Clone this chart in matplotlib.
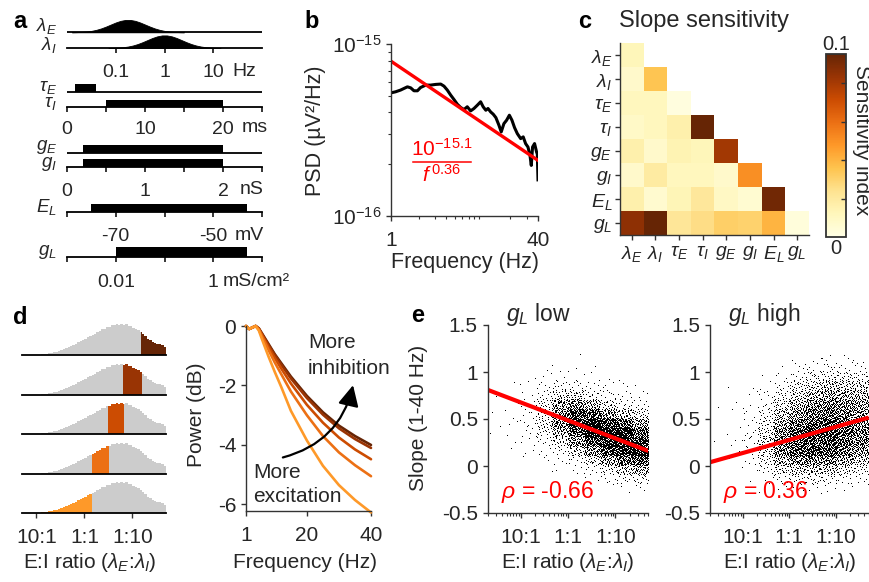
import numpy as np
import matplotlib
matplotlib.use("Agg")
import matplotlib.pyplot as plt
from matplotlib.patches import Rectangle
from matplotlib.lines import Line2D
from matplotlib.ticker import FixedLocator, NullFormatter, NullLocator, LogLocator

plt.rcParams["font.family"] = ["Liberation Sans", "DejaVu Sans"]
plt.rcParams["mathtext.fontset"] = "custom"
plt.rcParams["mathtext.rm"] = "Liberation Sans"
plt.rcParams["mathtext.it"] = "Liberation Sans:italic"
plt.rcParams["mathtext.bf"] = "Liberation Sans:bold"
plt.rcParams["axes.unicode_minus"] = False
TXT = "#262626"
SPINE = "#333333"
plt.rcParams["text.color"] = TXT
plt.rcParams["xtick.color"] = SPINE
plt.rcParams["ytick.color"] = SPINE
plt.rcParams["xtick.labelcolor"] = TXT
plt.rcParams["ytick.labelcolor"] = TXT

# ---------------- data ----------------
# a: parameter priors
lam_E_logf = [-1.9, -1.8, -1.7, -1.6, -1.5, -1.4, -1.3, -1.2, -1.1, -1.0, -0.9, -0.8,
              -0.7, -0.6, -0.5, -0.4, -0.3, -0.2, -0.1, 0.0, 0.1, 0.2, 0.3, 0.4]
lam_I_logf = [-1.15, -1.05, -0.95, -0.85, -0.75, -0.65, -0.55, -0.45, -0.35, -0.25, -0.15, -0.05,
              0.05, 0.15, 0.25, 0.35, 0.45, 0.55, 0.65, 0.75, 0.85, 0.95, 1.05, 1.15]
lam_dens = [0.006, 0.014, 0.031, 0.062, 0.114, 0.196, 0.311, 0.458, 0.623, 0.786, 0.917, 0.99,
            0.99, 0.917, 0.786, 0.623, 0.458, 0.311, 0.196, 0.114, 0.062, 0.031, 0.014, 0.006]
tau_E_range = (1.0, 3.7)     # ms
tau_I_range = (5.0, 20.0)    # ms
g_E_range = (0.2, 2.0)       # nS
g_I_range = (0.2, 2.0)       # nS
E_L_range = (-75.0, -43.0)   # mV
g_L_range = (0.01, 5.0)      # mS/cm2

# b: example spectrum
psd_freq = [1.0, 1.12, 1.27, 1.39, 1.51, 1.64, 1.78, 1.94, 2.1, 2.39, 2.7, 3.07, 3.48, 3.78,
            4.11, 4.47, 4.86, 5.28, 5.74, 6.24, 6.78, 7.38, 8.02, 8.72, 9.48, 10.1, 10.8,
            11.4, 12.2, 13.0, 13.9, 15.0, 15.9, 17.0, 18.2, 19.5, 20.8, 22.2, 23.8, 25.9,
            27.6, 29.3, 31.1, 32.7, 33.8, 34.9, 36.7, 38.6, 39.3, 40.0]
psd_log = [-15.284, -15.278, -15.268, -15.258, -15.249, -15.255, -15.272, -15.272, -15.253,
           -15.239, -15.239, -15.235, -15.233, -15.245, -15.268, -15.297, -15.323, -15.350,
           -15.369, -15.381, -15.365, -15.389, -15.375, -15.356, -15.336, -15.365, -15.385,
           -15.375, -15.395, -15.408, -15.428, -15.472, -15.511, -15.463, -15.443, -15.414,
           -15.443, -15.486, -15.521, -15.550, -15.540, -15.579, -15.599, -15.647, -15.706,
           -15.599, -15.579, -15.628, -15.640, -15.790]
fit_exp = -15.1
fit_slope = 0.36

# c: slope sensitivity (rows/cols: lamE lamI tauE tauI gE gI EL gL)
params_tex = [r"$\lambda_E$", r"$\lambda_I$", r"$\tau_E$", r"$\tau_I$",
              r"$g_E$", r"$g_I$", r"$E_L$", r"$g_L$"]
sens_rows = [
    [0.013],
    [0.008, 0.037],
    [0.012, 0.012, 0.002],
    [0.009, 0.012, 0.017, 0.100],
    [0.017, 0.008, 0.015, 0.013, 0.085],
    [0.008, 0.020, 0.012, 0.012, 0.008, 0.053],
    [0.017, 0.007, 0.014, 0.022, 0.010, 0.006, 0.097],
    [0.090, 0.100, 0.023, 0.027, 0.033, 0.032, 0.042, 0.003],
]

# d: E:I ratio histogram (log10 lamI/lamE) and selected bands
ei_edges = [-1.3, -1.25, -1.2, -1.15, -1.1, -1.05, -1.0, -0.95, -0.9, -0.85, -0.8, -0.75,
            -0.7, -0.65, -0.6, -0.55, -0.5, -0.45, -0.4, -0.35, -0.3, -0.25, -0.2, -0.15,
            -0.1, -0.05, 0.0, 0.05, 0.1, 0.15, 0.2, 0.25, 0.3, 0.35, 0.4, 0.45, 0.5, 0.55,
            0.6, 0.65, 0.7, 0.75, 0.8, 0.85, 0.9, 0.95, 1.0, 1.05, 1.1, 1.15, 1.2, 1.25,
            1.3, 1.35, 1.4, 1.45, 1.5, 1.55, 1.6, 1.65, 1.7]
ei_counts = [0, 0, 0, 0.1, 0.1, 0.2, 0.3, 0.5, 0.6, 1.0, 1.2, 1.8, 2.0, 2.7, 3.1, 4.0, 4.8,
             6.0, 6.8, 8.1, 9.0, 10.4, 11.1, 12.6, 13.6, 15.1, 16.0, 17.6, 18.8, 20.3, 21.4,
             23.1, 24.2, 25.8, 26.4, 27.9, 28.4, 29.6, 30.0, 30.9, 30.5, 31.3, 30.4, 30.8,
             29.3, 28.7, 27.0, 26.4, 24.6, 23.2, 20.6, 18.8, 16.3, 14.9, 13.2, 12.4, 11.2,
             10.7, 9.6, 8.3]
ei_bands = [(1.17, 1.7), (0.81, 1.19), (0.50, 0.82), (0.15, 0.52), (-1.3, 0.15)]
band_colors = ["#662506", "#993404", "#cc4c02", "#ec7014", "#fe9929"]

pow_freq = [1, 2, 3, 4, 5, 6, 8, 10, 12, 15, 20, 25, 30, 35, 40]
pow_db = [
    [0, -0.1, -0.05, 0, -0.08, -0.25, -0.60, -0.95, -1.25, -1.70, -2.35, -2.90, -3.35, -3.70, -4.00],
    [0, -0.1, -0.05, 0, -0.08, -0.27, -0.63, -0.98, -1.30, -1.76, -2.42, -2.98, -3.44, -3.80, -4.10],
    [0, -0.1, -0.05, 0, -0.10, -0.30, -0.70, -1.08, -1.43, -1.93, -2.65, -3.25, -3.75, -4.15, -4.48],
    [0, -0.1, -0.05, 0, -0.12, -0.35, -0.80, -1.23, -1.62, -2.20, -3.00, -3.70, -4.25, -4.68, -5.05],
    [0, -0.1, -0.05, 0, -0.15, -0.45, -1.02, -1.55, -2.05, -2.85, -3.85, -4.70, -5.35, -5.85, -6.27],
]

# e: slope vs E:I ratio, point counts per cell (rows top->bottom, cols left->right)
sc_xedges = [-1.7, -1.36, -1.02, -0.68, -0.34, 0.0, 0.34, 0.68, 1.02, 1.36, 1.7]
sc_yedges = [1.2, 1.1, 1.0, 0.9, 0.8, 0.7, 0.6, 0.5, 0.4, 0.3, 0.2, 0.1, 0.0, -0.1, -0.2, -0.3]
low_counts_by_col = [
    [0, 0, 0, 0, 1, 0, 1, 1, 1, 0, 0, 0, 0, 0, 0],
    [0, 0, 0, 1, 1, 1, 2, 2, 1, 1, 1, 0, 0, 0, 0],
    [0, 0, 1, 2, 3, 4, 5, 5, 4, 3, 2, 1, 0, 0, 0],
    [0, 1, 2, 5, 10, 20, 25, 22, 15, 8, 4, 2, 1, 0, 0],
    [0, 1, 3, 10, 30, 60, 80, 75, 50, 25, 10, 4, 1, 0, 0],
    [1, 1, 3, 8, 30, 75, 130, 150, 120, 70, 30, 10, 3, 1, 0],
    [0, 1, 2, 5, 15, 50, 120, 170, 180, 140, 70, 25, 8, 2, 0],
    [0, 0, 1, 3, 8, 25, 70, 140, 190, 190, 130, 60, 20, 5, 1],
    [0, 0, 1, 2, 5, 12, 40, 100, 160, 190, 170, 100, 40, 10, 2],
    [0, 0, 0, 1, 3, 8, 25, 60, 110, 160, 160, 120, 50, 15, 3],
]
high_counts_by_col = [
    [0, 0, 0, 0, 0, 1, 0, 0, 0, 1, 0, 1, 0, 0, 0],
    [0, 0, 0, 1, 0, 1, 1, 1, 1, 2, 1, 1, 0, 0, 0],
    [0, 0, 0, 1, 2, 2, 3, 4, 5, 7, 6, 4, 2, 1, 0],
    [0, 0, 1, 2, 5, 8, 12, 18, 25, 30, 28, 18, 8, 3, 1],
    [0, 1, 3, 8, 15, 25, 40, 55, 75, 85, 75, 50, 25, 8, 2],
    [1, 3, 8, 20, 35, 50, 70, 95, 120, 125, 110, 75, 35, 12, 3],
    [2, 5, 15, 30, 50, 70, 95, 120, 140, 150, 125, 85, 40, 15, 4],
    [3, 8, 20, 40, 60, 80, 100, 120, 135, 135, 115, 75, 35, 12, 3],
    [2, 6, 18, 35, 55, 75, 90, 100, 110, 105, 85, 55, 25, 8, 2],
    [1, 5, 15, 30, 45, 60, 70, 80, 85, 80, 65, 40, 18, 5, 1],
]
fit_ratio_ends = [10 ** -1.7, 10 ** 1.7]
low_fit_ends = [0.81, 0.16]
high_fit_ends = [0.04, 0.515]
rho_low = -0.66
rho_high = 0.36

# ---------------- layout helpers (pixel coordinates) ----------------
W, H = 869, 582
fig = plt.figure(figsize=(W / 100, H / 100), dpi=100)


def box(x0, y0, x1, y1):
    return [x0 / W, 1 - y1 / H, (x1 - x0) / W, (y1 - y0) / H]


def ftext(x, y, s, **kw):
    kw.setdefault("va", "center")
    return fig.text(x / W, 1 - y / H, s, **kw)


def only_bottom(ax, color="k", lw=1.3):
    for s in ["top", "right", "left"]:
        ax.spines[s].set_visible(False)
    ax.spines["bottom"].set_color(color)
    ax.spines["bottom"].set_linewidth(lw)
    ax.yaxis.set_visible(False)
    ax.patch.set_visible(False)


def halton(n, base, start=1):
    out = np.empty(n)
    for i in range(n):
        f, r, k = 1.0, 0.0, i + start
        while k > 0:
            f /= base
            r += f * (k % base)
            k //= base
        out[i] = r
    return out


# ---------------- panel a ----------------
def track_axes(y0, y1, pad):
    ax = fig.add_axes(box(67, y0, 262, y1))
    only_bottom(ax)
    ax.set_ylim(0, y1 - y0)
    ax.tick_params(axis="x", length=3.6, width=1.1, color="k", pad=pad, labelsize=14)
    return ax


ax = track_axes(18, 48, 8.2)
ax.set_xscale("log")
ax.set_xlim(0.01, 100)
xe = 10 ** np.array(lam_E_logf)
xi = 10 ** np.array(lam_I_logf)
dens = np.array(lam_dens)
ax.fill_between(xe, 15.7, 15.7 + 12.5 * dens, color="k", lw=0.6, clip_on=False)
ax.plot([0.01, 100], [15.7, 15.7], color="k", lw=1.3, clip_on=False, solid_capstyle="butt")
ax.fill_between(xi, 0, 12.7 * dens, color="k", lw=0.6, clip_on=False)
ax.xaxis.set_major_locator(FixedLocator([0.1, 1, 10]))
ax.set_xticklabels(["0.1", "1", "10"])
ax.xaxis.set_minor_locator(NullLocator())
ftext(232, 71.5, "Hz", ha="left", fontsize=14)

ax = track_axes(80, 107, 6.4)
ax.set_xlim(0, 25)
ax.fill_between(tau_E_range, 15.5, 23, color="k", lw=0)
ax.plot([0, 25], [15.5, 15.5], color="k", lw=1.3, clip_on=False, solid_capstyle="butt")
ax.fill_between(tau_I_range, 0, 7.5, color="k", lw=0)
ax.set_xticks([0, 5, 10, 15, 20, 25])
ax.set_xticklabels(["0", "", "10", "", "20", ""])
ftext(242, 128, "ms", ha="left", fontsize=14)

ax = track_axes(140, 167, 7.6)
ax.set_xlim(0, 2.5)
ax.fill_between(g_E_range, 14.3, 22, color="k", lw=0)
ax.plot([0, 2.5], [14.3, 14.3], color="k", lw=1.3, clip_on=False, solid_capstyle="butt")
ax.fill_between(g_I_range, 0, 7.7, color="k", lw=0)
ax.set_xticks([0, 0.5, 1, 1.5, 2, 2.5])
ax.set_xticklabels(["0", "", "1", "", "2", ""])
ftext(240, 190, "nS", ha="left", fontsize=14)

ax = track_axes(200, 212, 7.6)
ax.set_xlim(-80, -40)
ax.fill_between(E_L_range, 0, 8.5, color="k", lw=0)
ax.set_xticks([-80, -70, -60, -50, -40])
ax.set_xticklabels(["", "-70", "", "-50", ""])
ftext(235, 235, "mV", ha="left", fontsize=14)

ax = track_axes(245, 257, 8.8)
ax.set_xscale("log")
ax.set_xlim(0.001, 10)
ax.fill_between(g_L_range, 0, 9.5, color="k", lw=0)
ax.xaxis.set_major_locator(FixedLocator([0.001, 0.01, 0.1, 1, 10]))
ax.set_xticklabels(["", "0.01", "", "1", ""])
ax.xaxis.set_minor_locator(NullLocator())
ftext(223, 281, "mS/cm²", ha="left", fontsize=14)

for lbl, yy in zip(params_tex, [26.5, 45, 87, 103.5, 147, 164, 207, 252]):
    ftext(57, yy, lbl, ha="right", fontsize=13.5)

# ---------------- panel b ----------------
ax = fig.add_axes(box(391, 44, 538, 216))
ax.set_xscale("log")
ax.set_yscale("log")
ax.set_xlim(1, 40)
ax.set_ylim(1e-16, 1e-15)
ax.plot(psd_freq, 10 ** np.array(psd_log), color="k", lw=2.2, solid_joinstyle="round")
ff = np.array([1.0, 40.0])
ax.plot(ff, 10 ** fit_exp / ff ** fit_slope, color="#ff0000", lw=2.4)
for s in ["top", "right"]:
    ax.spines[s].set_visible(False)
for s in ["left", "bottom"]:
    ax.spines[s].set_color(SPINE)
    ax.spines[s].set_linewidth(1.0)
ax.xaxis.set_major_locator(FixedLocator([1, 40]))
ax.set_xticklabels(["1", "40"])
ax.xaxis.set_minor_locator(LogLocator(base=10, subs=range(2, 10)))
ax.xaxis.set_minor_formatter(NullFormatter())
ax.yaxis.set_major_locator(FixedLocator([1e-16, 1e-15]))
ax.set_yticklabels([r"$10^{-16}$", r"$10^{-15}$"])
ax.yaxis.set_minor_locator(LogLocator(base=10, subs=range(2, 10)))
ax.yaxis.set_minor_formatter(NullFormatter())
ax.tick_params(which="major", length=3.6, width=1.0, labelsize=15)
ax.tick_params(axis="x", which="major", pad=7)
ax.tick_params(which="minor", length=2.2, width=0.8)
ax.patch.set_visible(False)
ftext(316, 131, "PSD (µV²/Hz)", rotation=90, ha="center", fontsize=15.5)
ftext(465, 263, "Frequency (Hz)", ha="center", fontsize=15.5)
ftext(442, 149, r"$10^{-15.1}$", ha="center", fontsize=15, color="#ff0000")
fig.add_artist(Line2D([413 / W, 471 / W], [1 - 161.5 / H] * 2, color="#ff0000", lw=1.1))
ftext(442, 175, r"$f^{\,0.36}$", ha="center", fontsize=15, color="#ff0000")

# ---------------- panel c ----------------
n = len(params_tex)
mat = np.full((n, n), np.nan)
for i, row in enumerate(sens_rows):
    mat[i, :len(row)] = row
ax = fig.add_axes(box(620, 43, 809, 235))
im = ax.imshow(np.ma.masked_invalid(mat), cmap="YlOrBr", vmin=0, vmax=0.1,
               aspect="auto", interpolation="nearest",
               extent=(-0.5, n - 0.5, n - 0.5, -0.5))
ax.set_xticks(range(n))
ax.set_yticks(range(n))
ax.set_xticklabels(params_tex, fontsize=14)
ax.set_yticklabels(params_tex, fontsize=14)
for s in ["top", "right"]:
    ax.spines[s].set_visible(False)
for s in ["left", "bottom"]:
    ax.spines[s].set_color(SPINE)
    ax.spines[s].set_linewidth(1.0)
ax.tick_params(length=3.6, width=1.0, pad=2)
ax.tick_params(axis="x", pad=3)
ftext(619, 21, "Slope sensitivity", ha="left", fontsize=17)

cax = fig.add_axes(box(826, 54, 846, 237))
cb = fig.colorbar(im, cax=cax)
cb.outline.set_edgecolor(SPINE)
cb.outline.set_linewidth(1.3)
cax.yaxis.set_ticks([0.021, 0.042, 0.063, 0.084])
cax.yaxis.set_ticklabels([])
cax.tick_params(direction="in", length=3.5, width=1.0, right=True, left=False)
ftext(836, 44, "0.1", ha="center", fontsize=14.5)
ftext(836, 249, "0", ha="center", fontsize=14.5)
ftext(861, 140, "Sensitivity index", rotation=270, ha="center", fontsize=15)

# ---------------- panel d: histograms ----------------
bases = [355, 395, 434, 474, 513]
for k, base in enumerate(bases):
    ax = fig.add_axes(box(22, base - 36, 166, base))
    only_bottom(ax)
    ax.set_xlim(-1.3, 1.7)
    ax.set_ylim(0, 36)
    ax.stairs(ei_counts, ei_edges, fill=True, color="#cccccc", lw=0)
    lo, hi = ei_bands[k]
    band = ax.stairs(ei_counts, ei_edges, fill=True, color=band_colors[k], lw=0)
    band.set_clip_path(Rectangle((lo, 0), hi - lo, 40, transform=ax.transData))
    if k < len(bases) - 1:
        ax.set_xticks([])
    else:
        ax.set_xticks([-1, 0, 1])
        ax.set_xticklabels(["10:1", "1:1", "1:10"])
        ax.tick_params(axis="x", length=3.6, width=1.0, color=SPINE, labelsize=15, pad=7)
ftext(90, 563, r"E:I ratio ($\lambda_E$:$\lambda_I$)", ha="center", fontsize=15)

# ---------------- panel d: power spectra ----------------
ax = fig.add_axes(box(246, 326, 371, 511))
for dbs, col in zip(pow_db, band_colors):
    ax.plot(pow_freq, dbs, color=col, lw=1.9, clip_on=False, solid_capstyle="round")
ax.set_xlim(1, 40)
ax.set_ylim(-6.22, 0)
ax.set_xticks([1, 20, 40])
ax.set_yticks([0, -2, -4, -6])
ax.set_yticklabels(["0", "-2", "-4", "-6"])
for s in ["top", "right"]:
    ax.spines[s].set_visible(False)
for s in ["left", "bottom"]:
    ax.spines[s].set_color(SPINE)
    ax.spines[s].set_linewidth(1.0)
ax.tick_params(length=3.6, width=1.0, labelsize=15)
ax.tick_params(axis="x", pad=7)
ax.patch.set_visible(False)
ax.annotate("", xy=(34.4, -1.99), xytext=(12.5, -4.42),
            arrowprops=dict(arrowstyle="-|>,head_length=0.9,head_width=0.45",
                            connectionstyle="arc3,rad=0.3", color="k", lw=1.6,
                            mutation_scale=14, shrinkA=0, shrinkB=0))
ftext(308, 343, "More", ha="left", fontsize=15)
ftext(308, 368, "inhibition", ha="left", fontsize=15)
ftext(253, 473, "More", ha="left", fontsize=15)
ftext(253, 497, "excitation", ha="left", fontsize=15)
ftext(197, 415, "Power (dB)", rotation=90, ha="center", fontsize=15)
ftext(305, 563, "Frequency (Hz)", ha="center", fontsize=15)


# ---------------- panel e ----------------
def cloud(counts_by_col, seed_start):
    xs, ys = [], []
    idx = seed_start
    for c, col in enumerate(counts_by_col):
        x0, x1 = sc_xedges[c], sc_xedges[c + 1]
        for r, cnt in enumerate(col):
            if cnt == 0:
                continue
            y_hi, y_lo = sc_yedges[r], sc_yedges[r + 1]
            u = halton(cnt, 2, idx)
            v = halton(cnt, 3, idx)
            idx += cnt
            xs.append(x0 + u * (x1 - x0))
            ys.append(y_lo + v * (y_hi - y_lo))
    return 10 ** np.concatenate(xs), np.concatenate(ys)


def scatter_axes(x0, x1, counts, fit, rho, title, seed):
    ax = fig.add_axes(box(x0, 325, x1, 513))
    px, py = cloud(counts, seed)
    ax.plot(px, py, ",", color="k", alpha=1)
    ax.plot(fit_ratio_ends, fit, color="#ff0000", lw=3.0, solid_capstyle="butt")
    ax.set_xscale("log")
    ax.set_xlim(10 ** -1.7, 10 ** 1.7)
    ax.set_ylim(-0.5, 1.5)
    ax.xaxis.set_major_locator(FixedLocator([0.1, 1, 10]))
    ax.set_xticklabels(["10:1", "1:1", "1:10"])
    ax.xaxis.set_minor_locator(LogLocator(base=10, subs=range(2, 10)))
    ax.xaxis.set_minor_formatter(NullFormatter())
    ax.set_yticks([-0.5, 0, 0.5, 1, 1.5])
    ax.set_yticklabels(["-0.5", "0", "0.5", "1", "1.5"])
    for s in ["top", "right"]:
        ax.spines[s].set_visible(False)
    for s in ["left", "bottom"]:
        ax.spines[s].set_color(SPINE)
        ax.spines[s].set_linewidth(1.0)
    ax.tick_params(which="major", length=3.6, width=1.0, labelsize=15)
    ax.tick_params(axis="x", which="major", pad=7)
    ax.tick_params(which="minor", length=2.2, width=0.8)
    ax.patch.set_visible(False)
    ax.text(0.08, 0.11, r"$\rho$ = " + f"{rho:.2f}", transform=ax.transAxes,
            color="#ff0000", fontsize=16.5, va="center", ha="left")
    ftext(x0 + 18, 315, title, ha="left", fontsize=16.5)
    ftext((x0 + x1) / 2, 563, r"E:I ratio ($\lambda_E$:$\lambda_I$)", ha="center", fontsize=15)
    return ax


scatter_axes(487.7, 648.4, low_counts_by_col, low_fit_ends, rho_low, r"$g_L$ low", 1)
scatter_axes(710, 868.7, high_counts_by_col, high_fit_ends, rho_high, r"$g_L$ high", 20001)
ftext(418, 418, "Slope (1-40 Hz)", rotation=90, ha="center", fontsize=15)

# panel letters
for letter, x, y in [("a", 20, 22), ("b", 312, 22), ("c", 585, 22), ("d", 20, 317), ("e", 418, 316)]:
    ftext(x, y, letter, ha="center", fontsize=17, fontweight="bold", color="k")

fig.savefig("out.png", dpi=100)
